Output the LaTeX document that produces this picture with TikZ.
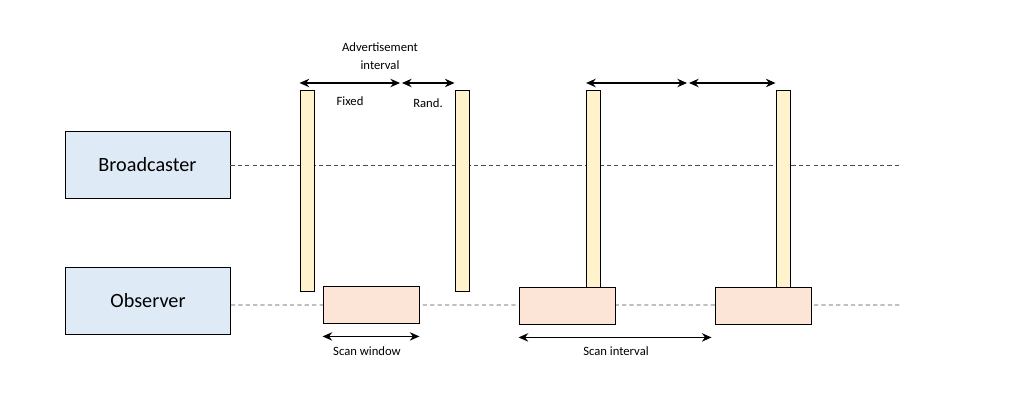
\documentclass[tikz,border=0pt]{standalone}
\usepackage{fontspec}
\setmainfont{Carlito}
\usetikzlibrary{arrows.meta}

\definecolor{roleblue}{RGB}{222,234,246}
\definecolor{advyellow}{RGB}{255,242,204}
\definecolor{scanpink}{RGB}{252,228,214}

\tikzset{
    role/.style={draw, line width=0.5pt, fill=roleblue, minimum width=3.3cm, minimum height=1.34cm, font=\fontsize{11.5}{13}\selectfont},
    advbar/.style={draw, line width=0.5pt, fill=advyellow, minimum width=0.28cm, anchor=north, inner sep=0pt},
    scanbox/.style={draw, line width=0.5pt, fill=scanpink, minimum width=1.92cm, minimum height=0.74cm, inner sep=0pt},
    timeline/.style={dash pattern=on 2.4pt off 1.8pt, line width=0.5pt, gray!60!black},
    span/.style={{Stealth[length=5.5pt,width=4.8pt]}-{Stealth[length=5.5pt,width=4.8pt]}, line width=0.8pt},
    note/.style={font=\fontsize{7.2}{10}\selectfont, align=center, inner sep=0pt}
}

\begin{document}
\begin{tikzpicture}
        \useasboundingbox (0,0) rectangle (20.4,-8.32);

        \node (broadcaster) [role] at (2.95,-3.30) {Broadcaster};
        \node (observer) [role] at (2.96,-6.02) {Observer};

        \coordinate (bend) at (18.0,-3.30);
        \coordinate (oend) at (18.0,-6.10);
        \draw [timeline] ([yshift=-0.08cm]observer.east) -- (oend);
        \draw [timeline] (broadcaster.east) -- (bend);

        \node (adv1) [advbar, minimum height=4.02cm] at (6.14,-1.80) {};
        \node (adv2) [advbar, minimum height=4.02cm] at (9.24,-1.80) {};
        \node (adv3) [advbar, minimum height=3.94cm] at (11.87,-1.80) {};
        \node (adv4) [advbar, minimum height=3.94cm] at (15.66,-1.80) {};

        \node (scan1) [scanbox] at (7.42,-6.09) {};
        \node (scan2) [scanbox] at (11.34,-6.11) {};
        \node (scan3) [scanbox] at (15.26,-6.11) {};

        \coordinate (fixedend) at (8.00,-1.66);
        \coordinate (randstart) at (8.04,-1.66);
        \coordinate (fixedend2) at (13.74,-1.66);
        \coordinate (randstart2) at (13.78,-1.66);

        \draw [span] ([yshift=0.14cm]adv1.north west) -- (fixedend);
        \draw [span] (randstart) -- ([yshift=0.14cm]adv2.north west);
        \draw [span] ([yshift=0.14cm]adv3.north west) -- (fixedend2);
        \draw [span] (randstart2) -- ([yshift=0.14cm]adv4.north west);

        \draw [span] ([yshift=-0.26cm]scan1.south west) -- ([yshift=-0.26cm]scan1.south east);
        \draw [span] ([yshift=-0.26cm]scan2.south west) -- ([yshift=-0.26cm,xshift=-0.06cm]scan3.south west);

        \node (advlabel) [note] at (7.60,-1.12) {Advertisement\\interval};
        \node (fixedlabel) [note] at (7.00,-2.02) {Fixed};
        \node (randlabel) [note] at (8.56,-2.06) {Rand.};
        \node (windowlabel) [note] at (7.34,-7.02) {Scan window};
        \node (intervallabel) [note] at (12.32,-7.02) {Scan interval};
    \end{tikzpicture}
\end{document}
